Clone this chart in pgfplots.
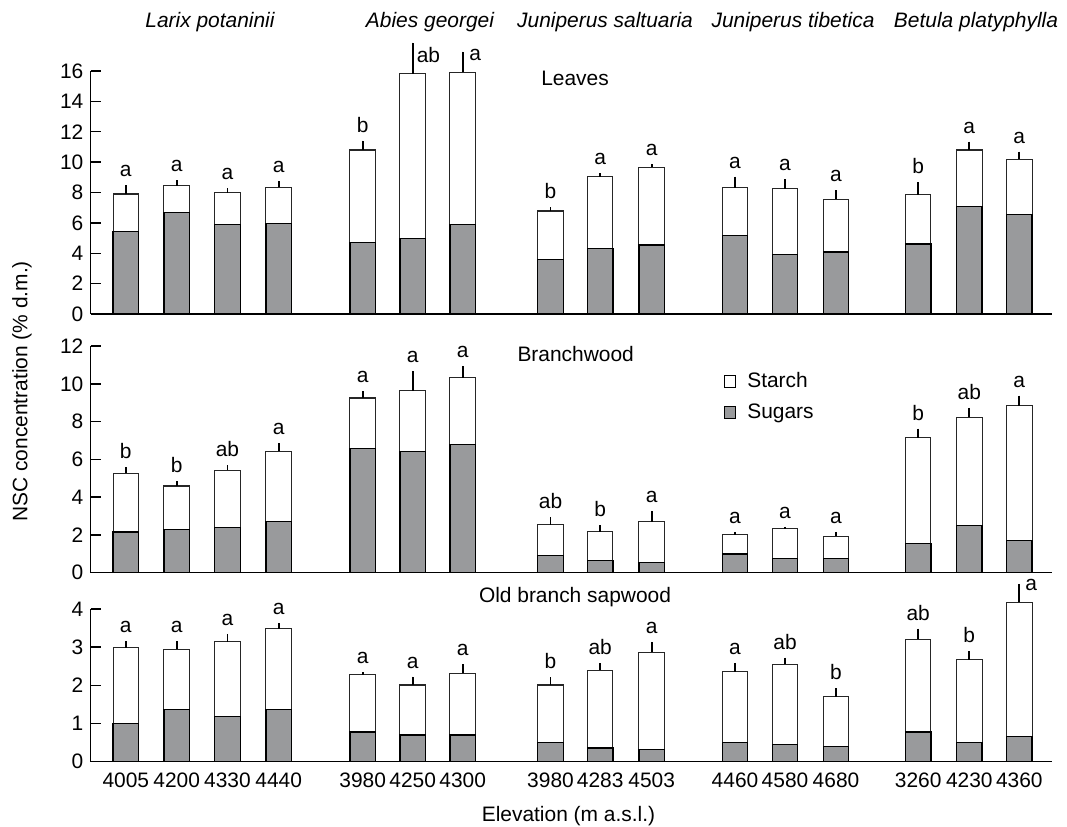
\documentclass[border=0pt]{standalone}
\usepackage{fontspec}
\setmainfont{Liberation Sans}
\usepackage{pgfplots}
\usepackage{pgfplotstable}
\pgfplotsset{compat=1.18}
\definecolor{sgray}{RGB}{153,154,156}
\newcommand{\f}{\fontsize{15.7}{18.8}\selectfont}

\pgfplotstableread{
x sugar total err
125.8 5.42 7.90 0.59
176.7 6.67 8.45 0.35
227.5 5.88 7.99 0.28
278.7 5.95 8.34 0.42
362.7 4.72 10.80 0.61
412.7 4.96 15.82 2.04
462.7 5.88 15.91 1.36
550.5 3.60 6.78 0.24
600.2 4.30 9.04 0.24
651.7 4.54 9.66 0.22
735.0 5.15 8.32 0.72
785.0 3.90 8.25 0.61
836.0 4.08 7.55 0.61
918.2 4.61 7.85 0.84
969.3 7.09 10.80 0.55
1019.3 6.54 10.18 0.51
}\leaves
\pgfplotstableread{
x y lab
125.8 8.49 a
176.7 8.80 a
227.5 8.27 a
278.7 8.76 a
362.7 11.41 b
550.5 7.02 b
600.2 9.28 a
651.7 9.88 a
735.0 9.04 a
785.0 8.86 a
836.0 8.16 a
918.2 8.69 b
969.3 11.35 a
1019.3 10.69 a
}\leavesL
\pgfplotstableread{
x y lab
416.5 17.05 ab
469.0 17.05 a
}\leavesS

\pgfplotstableread{
x sugar total err
125.8 2.16 5.27 0.32
176.7 2.30 4.59 0.26
227.5 2.41 5.43 0.25
278.7 2.71 6.43 0.42
362.7 6.59 9.25 0.35
412.7 6.43 9.63 1.06
462.7 6.77 10.33 0.62
550.5 0.93 2.55 0.40
600.2 0.63 2.18 0.33
651.7 0.53 2.71 0.56
735.0 0.99 2.00 0.16
785.0 0.76 2.32 0.11
836.0 0.76 1.92 0.24
918.2 1.55 7.15 0.48
969.3 2.48 8.22 0.50
1019.3 1.69 8.84 0.53
}\branch
\pgfplotstableread{
x y lab
125.8 5.59 b
176.7 4.85 b
227.5 5.68 ab
278.7 6.85 a
362.7 9.60 a
412.7 10.69 a
462.7 10.95 a
550.5 2.95 ab
600.2 2.51 b
651.7 3.27 a
735.0 2.16 a
785.0 2.43 a
836.0 2.16 a
918.2 7.63 b
969.3 8.72 ab
1019.3 9.37 a
}\branchL

\pgfplotstableread{
x sugar total err
125.8 1.01 2.99 0.17
176.7 1.37 2.94 0.22
227.5 1.18 3.14 0.21
278.7 1.37 3.48 0.15
362.7 0.78 2.28 0.07
412.7 0.70 2.01 0.22
462.7 0.70 2.32 0.23
550.5 0.50 2.01 0.20
600.2 0.36 2.40 0.18
651.7 0.31 2.87 0.27
735.0 0.50 2.36 0.23
785.0 0.46 2.55 0.18
836.0 0.39 1.70 0.22
918.2 0.78 3.21 0.28
969.3 0.50 2.67 0.23
1019.3 0.66 4.18 0.48
}\sap
\pgfplotstableread{
x y lab
125.8 3.16 a
176.7 3.16 a
227.5 3.35 a
278.7 3.63 a
362.7 2.35 a
412.7 2.23 a
462.7 2.55 a
550.5 2.21 b
600.2 2.58 ab
651.7 3.14 a
735.0 2.59 a
785.0 2.73 ab
836.0 1.92 b
918.2 3.49 ab
969.3 2.90 b
}\sapL
\pgfplotstableread{
x y lab
1025.0 4.63 a
}\sapS

\pgfplotsset{
  panel/.style={
    scale only axis, anchor=south west, width=720.975pt,
    xmin=90.7, xmax=1052, ymin=0, clip=false,
    axis lines=left,
    axis line style={-, line width=1.1pt, black},
    every outer x axis line/.append style={-},
    every outer y axis line/.append style={-},
    xtick=\empty,
    tick align=inside,
    major tick length=7.5pt,
    y tick style={line width=1.1pt, black},
    yticklabel style={font=\f, xshift=-2pt},
    /pgf/number format/assume math mode=true,
    minor tick num=0,
  },
  starch/.style={ybar, bar width=25.5, bar shift=0pt, fill=white, draw=black!85, line width=0.8pt,
    error bars/.cd, y dir=plus, y explicit, error mark=none,
    error bar style={line width=1.3pt, black}},
  sugars/.style={ybar, bar width=25.5, bar shift=0pt, fill=sgray, draw=black, line width=0.9pt},
  letters/.style={draw=none, mark=none, forget plot, nodes near coords, point meta=explicit symbolic,
    nodes near coords style={anchor=south, inner sep=0pt, yshift=6pt, font=\f}},
  sideletters/.style={draw=none, mark=none, forget plot, nodes near coords, point meta=explicit symbolic,
    nodes near coords style={anchor=west, inner sep=0pt, font=\f}},
}

\begin{document}
\begin{tikzpicture}
\useasboundingbox (0,0) rectangle (800.25pt,619.5pt);

% Leaves
\begin{axis}[panel, at={(68.025pt,384pt)}, height=182.25pt, ymax=16, ytick={0,2,...,16}]
\addplot[starch] table[x=x, y=total, y error=err] {\leaves};
\addplot[sugars] table[x=x, y=sugar] {\leaves};
\addplot[letters] table[x=x, y=y, meta=lab] {\leavesL};
\addplot[sideletters] table[x=x, y=y, meta=lab] {\leavesS};
\node[font=\f] at (axis cs:575,15.54) {Leaves};
\node[font=\f\itshape] at (axis cs:210,19.25) {Larix potaninii};
\node[font=\f\itshape] at (axis cs:430,19.25) {Abies georgei};
\node[font=\f\itshape] at (axis cs:605,19.25) {Juniperus saltuaria};
\node[font=\f\itshape] at (axis cs:793,19.25) {Juniperus tibetica};
\node[font=\f\itshape] at (axis cs:976,19.25) {Betula platyphylla};
\end{axis}

% Branchwood
\begin{axis}[panel, at={(68.025pt,189.975pt)}, height=170pt, ymax=12, ytick={0,2,...,12},
  ylabel={NSC concentration (\% d.m.)},
  every axis y label/.style={at={(axis description cs:-0.0715,0.80)}, rotate=90, anchor=center, font=\f},
  legend style={at={(axis description cs:0.658,0.895)}, anchor=north west, draw=none, fill=none,
    font=\f, row sep=6.5pt, inner sep=0pt},
  legend cell align=left]
\addplot[legend image code/.code={\draw[fill=white, draw=black, line width=0.7pt] (0pt,-4.4pt) rectangle (8.8pt,4.4pt);
    \path[draw=none, fill=none] (0pt,0pt) -- (15.5pt,0pt);}, starch]
  table[x=x, y=total, y error=err] {\branch};
\addlegendentry{Starch}
\addplot[legend image code/.code={\draw[fill=sgray, draw=black, line width=0.7pt] (0pt,-4.4pt) rectangle (8.8pt,4.4pt);
    \path[draw=none, fill=none] (0pt,0pt) -- (15.5pt,0pt);}, sugars]
  table[x=x, y=sugar] {\branch};
\addlegendentry{Sugars}
\addplot[letters] table[x=x, y=y, meta=lab] {\branchL};
\node[font=\f] at (axis cs:575.7,11.57) {Branchwood};
\end{axis}

% Old branch sapwood
\begin{axis}[panel, at={(68.025pt,48.225pt)}, height=114.5pt, ymax=4, ytick={0,1,...,4},
  xtick={125.8,176.7,227.5,278.7,362.7,412.7,462.7,550.5,600.2,651.7,735,785,836,918.2,969.3,1019.3},
  xticklabels={4005,4200,4330,4440,3980,4250,4300,3980,4283,4503,4460,4580,4680,3260,4230,4360},
  x tick style={draw=none},
  xticklabel style={font=\f, yshift=-5pt},
  xlabel={Elevation (m a.s.l.)},
  every axis x label/.style={at={(axis description cs:0.497,0)}, anchor=center, yshift=-41pt, font=\f}]
\addplot[starch] table[x=x, y=total, y error=err] {\sap};
\addplot[sugars] table[x=x, y=sugar] {\sap};
\addplot[letters] table[x=x, y=y, meta=lab] {\sapL};
\addplot[sideletters] table[x=x, y=y, meta=lab] {\sapS};
\node[font=\f] at (axis cs:575,4.31) {Old branch sapwood};
\end{axis}
\end{tikzpicture}
\end{document}
